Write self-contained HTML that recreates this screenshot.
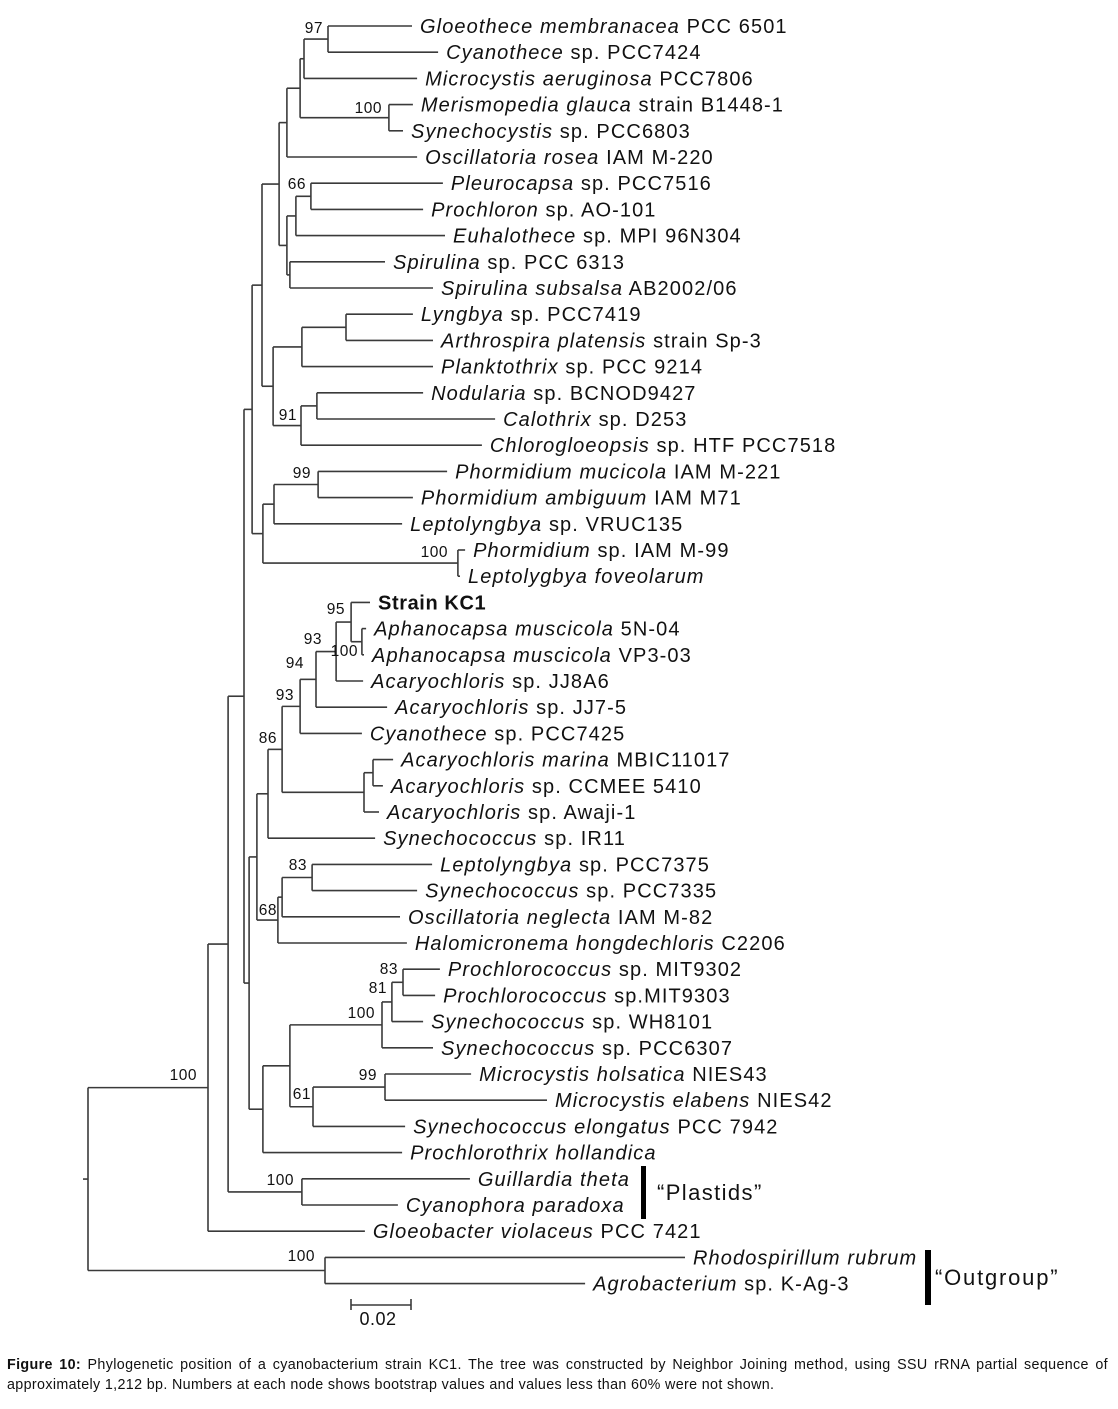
<!DOCTYPE html>
<html><head><meta charset="utf-8">
<style>
html,body{margin:0;padding:0;background:#fff;}
body{width:1118px;height:1409px;position:relative;overflow:hidden;font-family:"Liberation Sans",Arial,sans-serif;}
#cap{position:absolute;left:7px;top:1355px;width:1101px;font-size:14.3px;line-height:20px;color:#111;text-align:justify;letter-spacing:0.35px;}
</style></head>
<body>
<svg id="tree" width="1118" height="1345" style="position:absolute;left:0;top:0" xmlns="http://www.w3.org/2000/svg"></svg>
<div id="cap"><b>Figure 10:</b> Phylogenetic position of a cyanobacterium strain KC1. The tree was constructed by Neighbor Joining method, using SSU rRNA partial sequence of approximately 1,212 bp. Numbers at each node shows bootstrap values and values less than 60% were not shown.</div>
<script>
// distance scale: 0.02 substitutions = 60px
const ROOT_X = 88;
const PX_PER_UNIT = 3000;
const LEAF_Y0 = 26, LEAF_DY = 26.2;
function xs(d){return ROOT_X + d*PX_PER_UNIT;}
function L(it,rest,d,bold){return {it:it,rest:rest,d:d,bold:!!bold};}
const tree = {d:0,c:[
 {d:0.04,b:['100',197,1075],c:[
  {d:0.0467,c:[
   {d:0.052,c:[
    {d:0.0547,c:[
     {d:0.058,c:[
      {d:0.0637,c:[
       {d:0.0663,c:[
        {d:0.0707,c:[
         {d:0.072,c:[
          {d:0.08,b:['97',323,28],c:[L('Gloeothece membranacea',' PCC 6501',0.108),L('Cyanothece',' sp. PCC7424',0.1167)]},
          L('Microcystis aeruginosa',' PCC7806',0.1097)]},
         {d:0.1003,b:['100',382,108],c:[L('Merismopedia glauca',' strain B1448-1',0.1083),L('Synechocystis',' sp. PCC6803',0.105)]}]},
        L('Oscillatoria rosea',' IAM M-220',0.1097)]},
       {d:0.0663,c:[
        {d:0.0693,c:[
         {d:0.0743,b:['66',306,184],c:[L('Pleurocapsa',' sp. PCC7516',0.1183),L('Prochloron',' sp. AO-101',0.1117)]},
         L('Euhalothece',' sp. MPI 96N304',0.119)]},
        {d:0.0673,c:[L('Spirulina',' sp. PCC 6313',0.099),L('Spirulina subsalsa',' AB2002/06',0.115)]}]}]},
      {d:0.0617,c:[
       {d:0.0713,c:[
        {d:0.086,c:[L('Lyngbya',' sp. PCC7419',0.1083),L('Arthrospira platensis',' strain Sp-3',0.115)]},
        L('Planktothrix',' sp. PCC 9214',0.115)]},
       {d:0.071,b:['91',297,415],c:[
        {d:0.0763,c:[L('Nodularia',' sp. BCNOD9427',0.1117),L('Calothrix',' sp. D253',0.1357)]},
        L('Chlorogloeopsis',' sp. HTF PCC7518',0.1313)]}]}]},
     {d:0.0583,c:[
      {d:0.062,c:[
       {d:0.0767,b:['99',311,473],c:[L('Phormidium mucicola',' IAM M-221',0.1197),L('Phormidium ambiguum',' IAM M71',0.1083)]},
       L('Leptolyngbya',' sp. VRUC135',0.1047)]},
      {d:0.1233,b:['100',448,552],c:[L('Phormidium',' sp. IAM M-99',0.1257),L('Leptolygbya foveolarum','',0.124)]}]}]},
    {d:0.0537,c:[
     {d:0.0563,c:[
      {d:0.06,c:[
       {d:0.0647,b:['86',277,738],c:[
        {d:0.0707,b:['93',294,695],c:[
         {d:0.076,b:['94',304,663],c:[
          {d:0.0827,b:['93',322,639],c:[
           {d:0.0877,b:['95',345,609],c:[
            L('','Strain KC1',0.094,true),
            {d:0.0913,b:['100',358,651],c:[L('Aphanocapsa muscicola',' 5N-04',0.0927),L('Aphanocapsa muscicola',' VP3-03',0.092)]}]},
           L('Acaryochloris',' sp. JJ8A6',0.0917)]},
          L('Acaryochloris',' sp. JJ7-5',0.0997)]},
         L('Cyanothece',' sp. PCC7425',0.0913)]},
        {d:0.092,c:[
         {d:0.095,c:[L('Acaryochloris marina',' MBIC11017',0.1017),L('Acaryochloris',' sp. CCMEE 5410',0.0983)]},
         L('Acaryochloris',' sp. Awaji-1',0.097)]}]},
       L('Synechococcus',' sp. IR11',0.0957)]},
      {d:0.0633,b:['68',277,910],c:[
       {d:0.0647,c:[
        {d:0.0747,b:['83',307,865],c:[L('Leptolyngbya',' sp. PCC7375',0.1147),L('Synechococcus',' sp. PCC7335',0.1097)]},
        L('Oscillatoria neglecta',' IAM M-82',0.104)]},
       L('Halomicronema hongdechloris',' C2206',0.1063)]}]},
     {d:0.0583,c:[
      {d:0.0673,c:[
       {d:0.098,b:['100',375,1013],c:[
        {d:0.1013,b:['81',387,988],c:[
         {d:0.105,b:['83',398,969],c:[L('Prochlorococcus',' sp. MIT9302',0.1173),L('Prochlorococcus',' sp.MIT9303',0.1157)]},
         L('Synechococcus',' sp. WH8101',0.1117)]},
        L('Synechococcus',' sp. PCC6307',0.115)]},
       {d:0.075,b:['61',311,1094],c:[
        {d:0.099,b:['99',377,1075],c:[L('Microcystis holsatica',' NIES43',0.1277),L('Microcystis elabens',' NIES42',0.153)]},
        L('Synechococcus elongatus',' PCC 7942',0.1057)]}]},
      L('Prochlorothrix hollandica','',0.1047)]}]}]},
   {d:0.0713,b:['100',294,1180],c:[L('Guillardia theta','',0.1273),L('Cyanophora paradoxa','',0.1033)]}]},
  L('Gloeobacter violaceus',' PCC 7421',0.0923)]},
 {d:0.079,b:['100',315,1256],c:[L('Rhodospirillum rubrum','',0.199),L('Agrobacterium',' sp. K-Ag-3',0.1657)]}
]};

const NS='http://www.w3.org/2000/svg';
const svg=document.getElementById('tree');
const STROKE='#3a3a3a';
let leafIdx=0;
function line(x1,y1,x2,y2,name){
  const l=document.createElementNS(NS,'line');
  l.setAttribute('x1',x1);l.setAttribute('y1',y1);l.setAttribute('x2',x2);l.setAttribute('y2',y2);
  l.setAttribute('stroke',STROKE);l.setAttribute('stroke-width','1.6');
  
  
  svg.appendChild(l);
}
function text(x,y,str,size,anchor,name,ls){
  const t=document.createElementNS(NS,'text');
  t.setAttribute('x',x);t.setAttribute('y',y);t.setAttribute('font-size',size);
  t.setAttribute('font-family','Liberation Sans, Arial, sans-serif');
  t.setAttribute('fill','#111');
  if(ls)t.setAttribute('letter-spacing',ls);
  if(anchor)t.setAttribute('text-anchor',anchor);
  t.textContent=str;
  
  
  svg.appendChild(t);
  return t;
}
function layout(n){
  if(!n.c){n.y=LEAF_Y0+LEAF_DY*(leafIdx++);return n.y;}
  n.c.forEach(layout);
  n.y=(n.c[0].y+n.c[n.c.length-1].y)/2;return n.y;
}
layout(tree);
function draw(n,parentX){
  const x=xs(n.d);
  line(parentX,n.y,x,n.y,'branch');
  if(!n.c){
    const t=document.createElementNS(NS,'text');
    t.setAttribute('x',x+8);t.setAttribute('y',n.y+7);t.setAttribute('font-size','20');
    t.setAttribute('letter-spacing','1.1');
    t.setAttribute('font-family','Liberation Sans, Arial, sans-serif');t.setAttribute('fill','#111');
    if(n.bold){t.setAttribute('font-weight','bold');t.setAttribute('letter-spacing','0.6');}
    if(n.it){const s=document.createElementNS(NS,'tspan');s.setAttribute('font-style','italic');s.textContent=n.it;t.appendChild(s);}
    if(n.rest){const s=document.createElementNS(NS,'tspan');s.textContent=n.rest;t.appendChild(s);}
    
    
    svg.appendChild(t);
    return;
  }
  line(x,n.c[0].y,x,n.c[n.c.length-1].y,'node-vertical');
  if(n.b){text(n.b[1],n.b[2]+5,n.b[0],15.5,'end','bootstrap-value','0.5');}
  n.c.forEach(ch=>draw(ch,x));
}
line(ROOT_X-5,(tree.c[0].y+tree.c[1].y)/2,ROOT_X,(tree.c[0].y+tree.c[1].y)/2,'root-stub');
line(ROOT_X,tree.c[0].y,ROOT_X,tree.c[1].y,'root-vertical');
tree.c.forEach(ch=>draw(ch,ROOT_X));

const SCALE_VAL=0.02;
line(351,1305,351+SCALE_VAL*PX_PER_UNIT,1305,'scale-bar');
line(351,1299,351,1310,'scale-bar-tick');
line(351+SCALE_VAL*PX_PER_UNIT,1299,351+SCALE_VAL*PX_PER_UNIT,1310,'scale-bar-tick');
text(378,1325,'0.02',18,'middle','scale-bar-label','0.5');

function bar(x,y,w,h,name){const r=document.createElementNS(NS,'rect');r.setAttribute('x',x);r.setAttribute('y',y);r.setAttribute('width',w);r.setAttribute('height',h);r.setAttribute('fill','#000');
 
 
 svg.appendChild(r);}
bar(641,1166,5,53,'plastids-bracket');
text(657,1200,'\u201cPlastids\u201d',22,null,'plastids-label','1.4');
bar(925,1250,6,55,'outgroup-bracket');
text(935,1285,'\u201cOutgroup\u201d',22,null,'outgroup-label','1.8');
</script>
</body></html>
